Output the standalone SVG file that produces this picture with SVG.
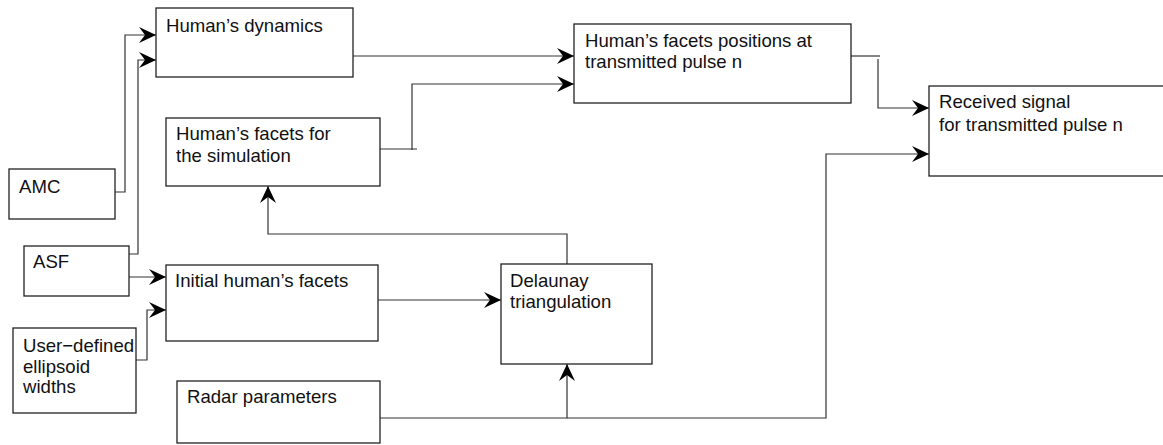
<svg xmlns="http://www.w3.org/2000/svg" width="1163" height="445" viewBox="0 0 1163 445">
<defs>
<style>
.box{fill:#fff;stroke:#222;stroke-width:1.3}
.t{font-family:"Liberation Sans",Arial,sans-serif;font-size:18.6px;fill:#111}
.c{fill:none;stroke:#333;stroke-width:1.2}
</style>
<marker id="ah" viewBox="-18 -9 19 18" refX="0" refY="0" markerWidth="19" markerHeight="18" markerUnits="userSpaceOnUse" orient="auto">
<path d="M0,0 L-17,-8 L-11,0 L-17,8 Z" fill="#000"/>
</marker>
</defs>
<rect width="1163" height="445" fill="#fff"/>
<g id="connectors">
<path class="c" d="M115,192 H125 V35 H156" marker-end="url(#ah)"/>
<path class="c" d="M129,254 H138 V60 H156" marker-end="url(#ah)"/>
<path class="c" d="M129,277 H166" marker-end="url(#ah)"/>
<path class="c" d="M136,360 H147 V310 H166" marker-end="url(#ah)"/>
<path class="c" d="M378,300 H501" marker-end="url(#ah)"/>
<path class="c" d="M380,418 H567 V364" marker-end="url(#ah)"/>
<path class="c" d="M567,418 H826 V154 H929" marker-end="url(#ah)"/>
<path class="c" d="M567,264 V234 H268 V186" marker-end="url(#ah)"/>
<path class="c" d="M353,56 H574" marker-end="url(#ah)"/>
<path class="c" d="M380,149 H417"/>
<path class="c" d="M412,150 V84 H574" marker-end="url(#ah)"/>
<path class="c" d="M851,56 H880"/>
<path class="c" d="M878,59 V108 H929" marker-end="url(#ah)"/>
</g>
<g id="dynamics">
<rect class="box" x="156" y="8" width="197" height="69"/>
<text class="t" x="166" y="32">Human’s dynamics</text>
</g>
<g id="facets-sim">
<rect class="box" x="166" y="118" width="214" height="68"/>
<text class="t" x="176" y="140">Human’s facets for</text>
<text class="t" x="176" y="162">the simulation</text>
</g>
<g id="positions">
<rect class="box" x="574" y="24" width="277" height="79"/>
<text class="t" x="585" y="47">Human’s facets positions at</text>
<text class="t" x="585" y="68">transmitted pulse n</text>
</g>
<g id="received">
<rect class="box" x="929" y="86" width="250" height="90"/>
<text class="t" x="939" y="108">Received signal</text>
<text class="t" x="939" y="131">for transmitted pulse n</text>
</g>
<g id="amc">
<rect class="box" x="9" y="169" width="106" height="50"/>
<text class="t" x="19" y="193">AMC</text>
</g>
<g id="asf">
<rect class="box" x="24" y="246" width="105" height="50"/>
<text class="t" x="33" y="268">ASF</text>
</g>
<g id="initial">
<rect class="box" x="166" y="265" width="212" height="76"/>
<text class="t" x="175" y="287">Initial human’s facets</text>
</g>
<g id="user">
<rect class="box" x="13" y="328" width="123" height="85"/>
<text class="t" x="23" y="352">User−defined</text>
<text class="t" x="23" y="373">ellipsoid</text>
<text class="t" x="23" y="393">widths</text>
</g>
<g id="delaunay">
<rect class="box" x="501" y="264" width="151" height="100"/>
<text class="t" x="510" y="287">Delaunay</text>
<text class="t" x="510" y="308">triangulation</text>
</g>
<g id="radar">
<rect class="box" x="177" y="381" width="203" height="62"/>
<text class="t" x="187" y="403">Radar parameters</text>
</g>
</svg>
